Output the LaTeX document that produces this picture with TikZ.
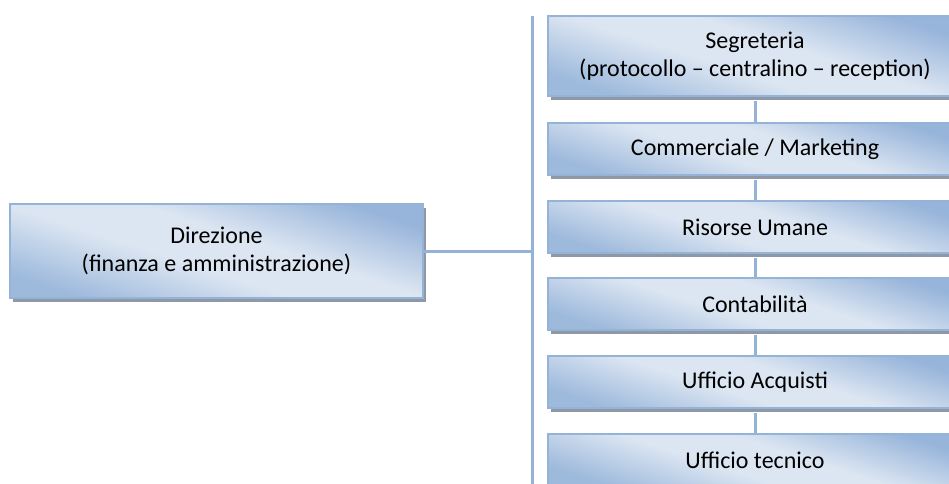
\documentclass[tikz,border=0pt]{standalone}
\usepackage{fontspec}
\setmainfont{Carlito}
\usetikzlibrary{shadows}
\definecolor{edgeblue}{HTML}{95B3D7}
\definecolor{darkfill}{HTML}{97B4DA}
\definecolor{lightfill}{HTML}{DCE6F2}
\definecolor{lowfill}{HTML}{9DB9DC}
\definecolor{shadowgray}{HTML}{8E98A6}
\pgfdeclareverticalshading{boxshade}{100bp}{color(0bp)=(lowfill); color(25bp)=(lowfill); color(44bp)=(lightfill); color(56bp)=(lightfill); color(75bp)=(darkfill); color(100bp)=(darkfill)}
\tikzset{
  box/.style={draw=edgeblue, line width=1.4pt, rectangle, align=center,
    shading=boxshade, shading angle=-18, inner sep=0pt, text=black,
    font=\fontsize{24}{28.5}\selectfont,
    general shadow={fill=shadowgray, shadow xshift=2.5pt, shadow yshift=-3.5pt}},
  rbox/.style={box, minimum width=414pt},
  link/.style={draw=edgeblue, line width=3pt}
}
\begin{document}
\begin{tikzpicture}[x=1pt,y=-1pt]
\useasboundingbox (0,0) rectangle (949,483);
\clip (0,0) rectangle (949,483);
\fill[white] (0,0) rectangle (949,483);
% trunk
\coordinate (vtop) at (532,16);
\coordinate (vbot) at (532,490);
\draw[link] (vtop) -- (vbot);
% nodes
\node[box, minimum width=413pt, minimum height=94pt] (dir) at (216.5,251) {Direzione\\(finanza e amministrazione)};
\node[rbox, minimum height=80pt] (seg) at (755,56) {Segreteria\\(protocollo – centralino – reception)};
\node[rbox, minimum height=52pt] (com) at (755,149) {Commerciale / Marketing};
\node[rbox, minimum height=52pt] (ris) at (755,227) {Risorse Umane};
\node[rbox, minimum height=52pt] (con) at (755,304) {Contabilità};
\node[rbox, minimum height=52pt] (acq) at (755,382) {Ufficio Acquisti};
\node[rbox, minimum height=52pt] (tec) at (755,460) {Ufficio tecnico};
% connectors
\draw[link] (dir.east) -- (dir.east -| vtop);
\draw[link] ([yshift=-4pt]seg.south) -- (com.north);
\draw[link] ([yshift=-4pt]com.south) -- (ris.north);
\draw[link] ([yshift=-4pt]ris.south) -- (con.north);
\draw[link] ([yshift=-4pt]con.south) -- (acq.north);
\draw[link] ([yshift=-4pt]acq.south) -- (tec.north);
\end{tikzpicture}
\end{document}
